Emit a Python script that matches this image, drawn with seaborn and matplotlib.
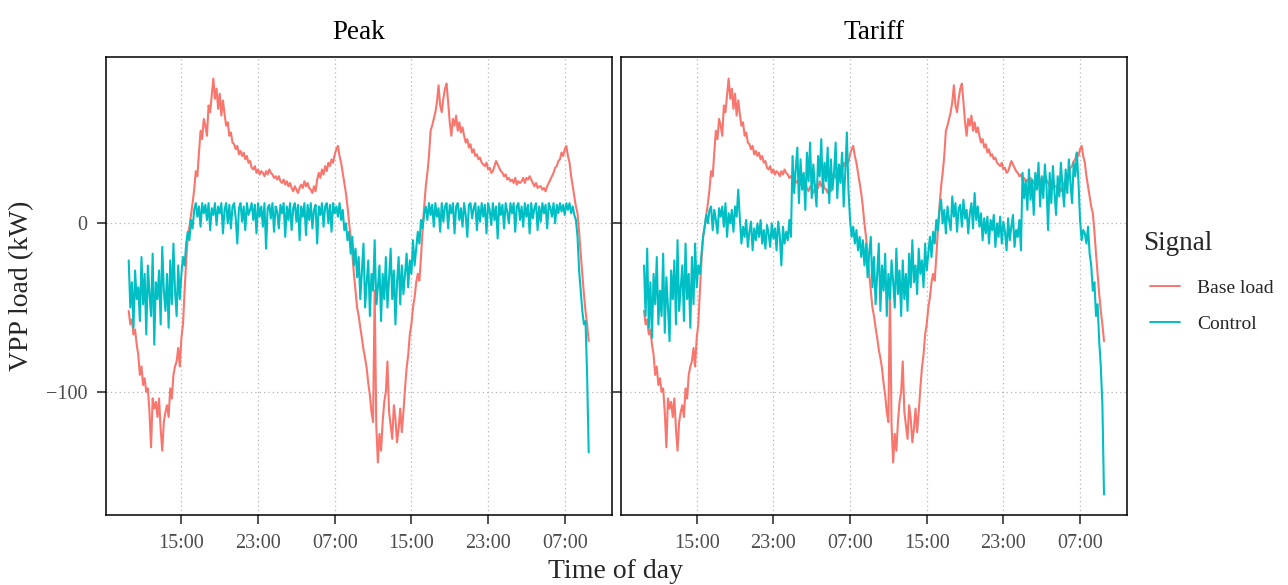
import numpy as np
import pandas as pd
import matplotlib
matplotlib.use("Agg")
import matplotlib.pyplot as plt
import matplotlib.dates as mdates
import seaborn as sns

# ---------------- data ----------------
panels = ["Peak", "Tariff"]
signals = ["Base load", "Control"]
colors = ["#F8766D", "#00BFC4"]
start_time = "2021-06-01 09:30"
step = "10min"
tick_times = ["2021-06-01 15:00", "2021-06-01 23:00", "2021-06-02 07:00",
              "2021-06-02 15:00", "2021-06-02 23:00", "2021-06-03 07:00"]
y_ticks = [0, -100]

# one row per hour (six 10-minute readings), starting 09:30
base_load = [
    -52, -60, -57, -66, -63, -72,
    -78, -90, -85, -96, -92, -100,
    -98, -112, -133, -104, -110, -106,
    -115, -104, -122, -135, -118, -112,
    -108, -115, -98, -104, -90, -85,
    -82, -74, -85, -68, -60, -40,
    -22, -8, -2, 5, 12, 20,
    31, 28, 42, 55, 50, 62,
    58, 52, 70, 66, 76, 86,
    74, 80, 68, 77, 64, 73,
    65, 58, 60, 52, 54, 48,
    47, 44, 46, 41, 43, 40,
    42, 38, 40, 36, 37, 33,
    32, 34, 30, 32, 29, 31,
    30, 28, 31, 29, 32, 30,
    29, 27, 28, 26, 28, 25,
    24, 26, 23, 25, 22, 24,
    21, 19, 22, 20, 18, 21,
    23, 21, 25, 22, 24, 21,
    20, 18, 22, 19, 26, 30,
    27, 32, 29, 34, 31, 36,
    34, 38, 36, 41, 44, 46,
    40, 36, 30, 24, 18, 10,
    0, -8, -18, -30, -40, -50,
    -55, -62, -68, -75, -80, -86,
    -95, -102, -112, -118, -40, -120,
    -142, -125, -135, -118, -106, -100,
    -82, -112, -120, -128, -108, -116,
    -130, -122, -110, -124, -112, -98,
    -86, -78, -66, -60, -50, -44,
    -35, -30, -34, -20, -4, 10,
    22, 30, 40, 55, 58, 62,
    66, 72, 82, 70, 66, 74,
    80, 83, 72, 60, 52, 62,
    58, 64, 55, 60, 54, 57,
    52, 48, 50, 45, 47, 42,
    44, 40, 41, 38, 39, 36,
    35, 34, 36, 32, 33, 30,
    31, 34, 37, 35, 33, 31,
    30, 28, 29, 26, 27, 25,
    26, 24, 27, 23, 25, 24,
    25, 27, 24, 27, 26, 28,
    26, 24, 22, 24, 21, 22,
    22, 20, 21, 19, 22, 24,
    26, 28, 30, 33, 34, 37,
    38, 42, 40, 44, 46, 40,
    36, 28, 22, 16, 10, 6,
    -5, -18, -30, -42, -52, -60,
    -70,
]

peak_control = [
    -22, -50, -35, -62, -28, -45,
    -38, -58, -20, -48, -30, -66,
    -25, -42, -55, -18, -72, -35,
    -45, -28, -60, -14, -40, -52,
    -30, -62, -22, -48, -12, -40,
    -55, -25, -45, -30, -20, -25,
    -12, -5, -10, 2, -3, 8,
    12, 4, 10, -2, 12, 6,
    11, 2, 12, -4, 9, 5,
    12, -1, 10, 6, 12, -6,
    8, 12, 0, 11, -3, 10,
    12, 3, -12, 9, 12, 1,
    10, -4, 12, 5, 8, 12,
    2, 11, -6, 12, 4, 10,
    -2, 12, -15, 9, 11, 3,
    12, -5, 10, 7, -3, 11,
    6, 12, -8, 10, 2, 12,
    -4, 9, 12, 1, 11, -10,
    10, 4, 12, -7, 11, 2,
    12, -3, 8, 11, -12, 10,
    5, 12, -2, 10, 12, 0,
    11, -5, 12, 6, 10, 4,
    12, 2, 8, -4, 0, -10,
    -5, -18, -8, -25, -15, -32,
    -20, -45, -28, -12, -50, -35,
    -22, -55, -30, -40, -10, -48,
    -38, -25, -58, -30, -45, -20,
    -50, -32, -15, -45, -28, -60,
    -35, -20, -48, -25, -42, -30,
    -18, -38, -22, -30, -10, -25,
    -15, -5, -12, 2, -3, 6,
    10, 2, 12, 5, 11, -2,
    12, 4, 9, -5, 12, 1,
    10, 12, -3, 11, 6, 12,
    -6, 10, 12, 2, 9, -2,
    12, 5, -8, 11, 12, 3,
    9, 12, -4, 10, 1, 12,
    4, 11, -6, 12, 8, -1,
    12, 2, 10, -9, 12, 5,
    11, -3, 12, 7, 0, 12,
    6, 12, -5, 10, 12, 2,
    10, -2, 12, 4, 11, -6,
    12, 3, 9, 12, -4, 10,
    1, 12, 6, 11, -3, 12,
    9, 4, 12, 0, 11, 6,
    12, 7, 11, 5, 12, 8,
    12, 6, 10, 5, 2, -8,
    -28, -40, -52, -60, -58, -90,
    -136,
]

tariff_control = [
    -25, -55, -15, -62, -35, -68,
    -30, -48, -20, -60, -40, -55,
    -18, -65, -32, -50, -70, -28,
    -45, -22, -60, -10, -52, -38,
    -25, -58, -12, -45, -30, -62,
    -20, -48, -12, -38, -25, -30,
    -18, -8, -2, 5, 0, 8,
    10, -4, 8, 2, -6, 9,
    4, 10, -2, 12, -8, 6,
    0, 8, -5, 10, 4, 20,
    3, -12, -2, -8, 2, -14,
    -5, 1, -16, -3, -10, 0,
    -8, 2, -12, -4, -15, -1,
    -6, -14, 0, -9, -3, -16,
    1, -7, -25, -2, -12, -5,
    -10, 2, -8, 40, 18, 32,
    45, 12, 38, 20, 30, 8,
    42, 25, 48, 15, 35, 22,
    10, 40, 28, 50, 18, 36,
    25, 45, 12, 38, 20, 30,
    48, 15, 35, 24, 42, 10,
    30, 54, 20, 2, -8, -2,
    -12, -4, -16, -8, -20, -10,
    -25, -12, -32, -18, -8, -38,
    -20, -48, -30, -12, -52, -25,
    -40, -18, -55, -30, -45, -22,
    -35, -50, -15, -42, -28, -55,
    -22, -45, -30, -52, -18, -38,
    -10, -35, -25, -42, -15, -30,
    -22, -38, -12, -28, -18, -8,
    -20, -5, -12, 2, -4, 8,
    14, 0, 8, -6, 10, 2,
    -4, 16, 4, 12, -5, 9,
    11, -2, 14, 3, 8, -6,
    6, 12, -3, 18, 2, 10,
    -2, 6, -10, 3, -6, 4,
    -12, 2, -4, 5, -14, 0,
    -8, 4, -12, 1, -5, -16,
    3, -10, -2, 5, -14, -4,
    -8, 2, -16, 30, 15, 25,
    8, 32, 14, 26, 5, 30,
    20, 36, 10, 28, 15, 35,
    22, -4, 30, 12, 34, 18,
    5, 28, 16, 36, 22, 10,
    32, 18, 38, 24, 12, 36,
    28, 42, 25, 2, -10, -4,
    -6, -12, -2, -18, -25, -40,
    -35, -55, -48, -70, -85, -108,
    -161,
]

# ---------------- long-form frame ----------------
frames = []
for panel, ctrl in zip(panels, [peak_control, tariff_control]):
    for sig, vals in zip(signals, [base_load, ctrl]):
        t = pd.date_range(start_time, periods=len(vals), freq=step)
        frames.append(pd.DataFrame({"time": t, "load": vals,
                                    "Signal": sig, "panel": panel}))
df = pd.concat(frames, ignore_index=True)

# ---------------- style ----------------
sns.set_theme(style="white")
plt.rcParams["font.family"] = ["Liberation Serif", "DejaVu Serif"]

W, H = 1288, 585
fig = plt.figure(figsize=(W / 100, H / 100), dpi=100)

top, bottom = 57.3, 515.0
lefts = [105.7, 621.0]
pw = 506.0

t0 = pd.Timestamp(start_time)
t1 = df["time"].max()
pad = (t1 - t0) * 0.05
xlim = (t0 - pad, t1 + pad)
ylim = (-173.2, 98.6)

axes = []
for i, panel in enumerate(panels):
    ax = fig.add_axes([lefts[i] / W, (H - bottom) / H, pw / W, (bottom - top) / H])
    sub = df[df["panel"] == panel]
    sns.lineplot(data=sub, x="time", y="load", hue="Signal",
                 hue_order=signals, palette=colors, estimator=None,
                 linewidth=1.5, ax=ax, legend=(i == 0))
    ax.set_xlim(xlim)
    ax.set_ylim(ylim)
    ax.set_xticks(pd.to_datetime(tick_times))
    ax.xaxis.set_major_formatter(mdates.DateFormatter("%H:%M"))
    ax.set_yticks(y_ticks)
    if i == 1:
        ax.set_yticklabels([])
    ax.grid(True, linestyle=(0, (1, 2.5)), color="#b5b5b5", linewidth=0.9)
    ax.set_axisbelow(True)
    for s in ax.spines.values():
        s.set_color("black")
        s.set_linewidth(1.1)
    ax.tick_params(axis="both", direction="out", length=6.5, width=1.2,
                   color="#333333", labelcolor="#4D4D4D", labelsize=14.5,
                   bottom=True, left=True)
    ax.tick_params(axis="x", pad=7.5)
    ax.tick_params(axis="y", pad=6.5)
    ax.set_xlabel("")
    ax.set_ylabel("")
    ax.set_title(panel, fontsize=19.5, pad=13, color="black")
    axes.append(ax)

handles, labels = axes[0].get_legend_handles_labels()
axes[0].get_legend().remove()
leg = fig.legend(handles, labels, loc="center left",
                 bbox_to_anchor=(1132 / W, 1 - 306 / H), frameon=False,
                 fontsize=14, handlelength=1.55,
                 labelspacing=0.95, handletextpad=0.88)
for h in leg.get_lines():
    h.set_linewidth(1.4)
fig.text(1143 / W, 1 - 243 / H, "Signal", ha="left", va="center", fontsize=19.5)

fig.text(616 / W, 1 - 571 / H, "Time of day", ha="center", va="center", fontsize=20)
fig.text(22 / W, 1 - 286 / H, "VPP load (kW)", ha="center", va="center",
         rotation=90, fontsize=20)

fig.savefig("out.png", dpi=100)
